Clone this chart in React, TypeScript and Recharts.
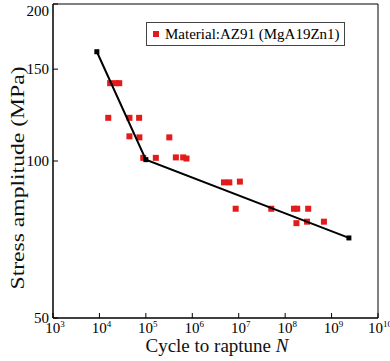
import React from 'react';
import {
  ComposedChart,
  Scatter,
  XAxis,
  YAxis,
  CartesianGrid,
  ReferenceArea,
  Legend,
  Label,
} from 'recharts';

// fatigue test results
const cycles = [
  1.7e4, 2.27e4, 2.67e4, 1.55e4, 4.43e4, 7.16e4, 4.43e4, 7.26e4, 3.2e5, 8.77e4, 1.64e5, 4.43e5,
  6.36e5, 7.5e5, 4.82e6, 6.27e6, 1.06e7, 8.6e6, 5.02e7, 1.55e8, 1.82e8, 3.14e8, 1.75e8, 2.96e8,
  6.84e8,
];
const stress = [
  141, 141, 141, 121, 121, 121, 111.5, 111, 111, 101.4, 101.4, 101.6, 101.6, 101.1, 91, 91, 91.3,
  81, 81, 81, 81, 81, 76, 76.5, 76.5,
];

// bilinear S-N fit
const fitCycles = [8.8e3, 1.0e5, 2.36e9];
const fitStress = [162, 100.6, 71.2];

const xTicks = [1e3, 1e4, 1e5, 1e6, 1e7, 1e8, 1e9, 1e10];
const xGrid = [1e4, 1e5, 1e6, 1e7, 1e8, 1e9];
const xMinor = xTicks.slice(0, -1).flatMap((d) => [2, 3, 4, 5, 6, 7, 8, 9].map((m) => m * d));
const yTicks = [50, 100, 150, 200];
const yGrid = [100, 150];
const yMinor = [60, 70, 80, 90, 110, 120, 130, 140, 160, 170, 180, 190];

const legendLabel = 'Material:AZ91 (MgA19Zn1)';

const tests = cycles.map((n, i) => ({ n, s: stress[i] }));
const fit = fitCycles.map((n, i) => ({ n, s: fitStress[i] }));

const FONT = 'Liberation Serif';
const RED = '#e31b1b';

const RedSquare = (p: any) => <rect x={p.cx - 3} y={p.cy - 3} width={6} height={6} fill={RED} />;
const BlackSquare = (p: any) => <rect x={p.cx - 2.5} y={p.cy - 2.5} width={5} height={5} fill="#000" />;

const PowerTick = ({ x, y, payload }: any) => {
  const exp = Math.round(Math.log10(payload.value));
  return (
    <text x={x + 2} y={y + 11} textAnchor="middle" fontFamily={FONT} fontSize={15} fill="#000">
      <tspan>10</tspan>
      <tspan dy={-6} fontSize={9}>
        {exp}
      </tspan>
    </text>
  );
};

// keep the top label inside the picture
const StressTick = ({ x, y, payload }: any) => (
  <text
    x={x}
    y={Math.max(y, 11)}
    textAnchor="end"
    dominantBaseline="central"
    fontFamily={FONT}
    fontSize={15}
    fill="#000"
  >
    {payload.value}
  </text>
);

const YTitle = ({ viewBox }: any) => {
  const cx = viewBox.x + 18;
  const cy = viewBox.y + viewBox.height / 2 + 17;
  return (
    <text
      transform={`translate(${cx},${cy}) rotate(-90)`}
      textAnchor="middle"
      dominantBaseline="central"
      fontFamily={FONT}
      fontSize={18}
      textLength={223}
      lengthAdjust="spacingAndGlyphs"
      fill="#111"
    >
      Stress amplitude (MPa)
    </text>
  );
};

const XTitle = ({ viewBox }: any) => (
  <text
    x={viewBox.x + viewBox.width / 2 + 1.5}
    y={viewBox.y + 34}
    textAnchor="middle"
    fontFamily={FONT}
    fontSize={19}
    fill="#111"
  >
    Cycle to raptune <tspan fontStyle="italic">N</tspan>
  </text>
);

const LegendBox = () => (
  <div
    style={{
      border: '1px solid #444',
      background: '#fff',
      padding: '1px 4px 1px 6px',
      display: 'flex',
      alignItems: 'center',
      fontFamily: FONT,
      fontSize: 15,
      lineHeight: '20px',
      whiteSpace: 'nowrap',
    }}
  >
    <span style={{ width: 6, height: 6, background: RED, marginRight: 6, display: 'inline-block' }} />
    {legendLabel}
  </div>
);

export default function App() {
  return (
    <div style={{ width: 390, height: 361 }}>
      <style>{'body{margin:0}'}</style>
      <ComposedChart width={390} height={361} margin={{ top: 4, right: 12, bottom: 0, left: 0 }}>
        <CartesianGrid
          xAxisId="xm"
          yAxisId="ym"
          vertical={false}
          horizontalValues={yMinor}
          stroke="#c4c4c4"
          strokeDasharray="1 2"
        />
        <CartesianGrid
          xAxisId="xm"
          yAxisId="ym"
          horizontal={false}
          verticalValues={xGrid}
          stroke="#d4d4d4"
        />
        <CartesianGrid
          xAxisId="xm"
          yAxisId="ym"
          vertical={false}
          horizontalValues={yGrid}
          stroke="#9a9a9a"
        />
        <XAxis
          xAxisId="xm"
          type="number"
          scale="log"
          domain={[1e3, 1e10]}
          allowDataOverflow
          ticks={xMinor}
          interval={0}
          height={0}
          tick={false}
          axisLine={false}
          tickSize={-3}
          tickLine={{ stroke: '#000' }}
        />
        <XAxis
          xAxisId="x"
          dataKey="n"
          type="number"
          scale="log"
          domain={[1e3, 1e10]}
          allowDataOverflow
          ticks={xTicks}
          interval={0}
          height={43}
          tickSize={-5}
          tickMargin={9}
          tick={<PowerTick />}
          axisLine={{ stroke: '#000' }}
          tickLine={{ stroke: '#000' }}
        >
          <Label content={<XTitle />} />
        </XAxis>
        <YAxis
          yAxisId="ym"
          type="number"
          scale="log"
          domain={[50, 200]}
          allowDataOverflow
          ticks={yMinor}
          interval={0}
          width={0}
          tick={false}
          axisLine={false}
          tickSize={-3}
          tickLine={{ stroke: '#000' }}
        />
        <YAxis
          yAxisId="y"
          dataKey="s"
          type="number"
          scale="log"
          domain={[50, 200]}
          allowDataOverflow
          ticks={yTicks}
          interval={0}
          width={53}
          tickSize={-5}
          tickMargin={9}
          tick={<StressTick />}
          axisLine={{ stroke: '#000' }}
          tickLine={{ stroke: '#000' }}
        >
          <Label content={<YTitle />} />
        </YAxis>
        <ReferenceArea
          xAxisId="x"
          yAxisId="y"
          x1={1e3}
          x2={1e10}
          y1={50}
          y2={200}
          fill="none"
          stroke="#000"
          strokeOpacity={1}
          ifOverflow="visible"
        />
        <Scatter
          name={legendLabel}
          xAxisId="x"
          yAxisId="y"
          data={tests}
          shape={<RedSquare />}
          isAnimationActive={false}
        />
        <Scatter
          xAxisId="x"
          yAxisId="y"
          data={fit}
          line={{ stroke: '#000', strokeWidth: 2 }}
          shape={<BlackSquare />}
          legendType="none"
          isAnimationActive={false}
        />
        <Legend
          layout="vertical"
          align="center"
          verticalAlign="middle"
          content={<LegendBox />}
          wrapperStyle={{ left: 146, top: 22, width: 'auto' }}
        />
      </ComposedChart>
    </div>
  );
}
